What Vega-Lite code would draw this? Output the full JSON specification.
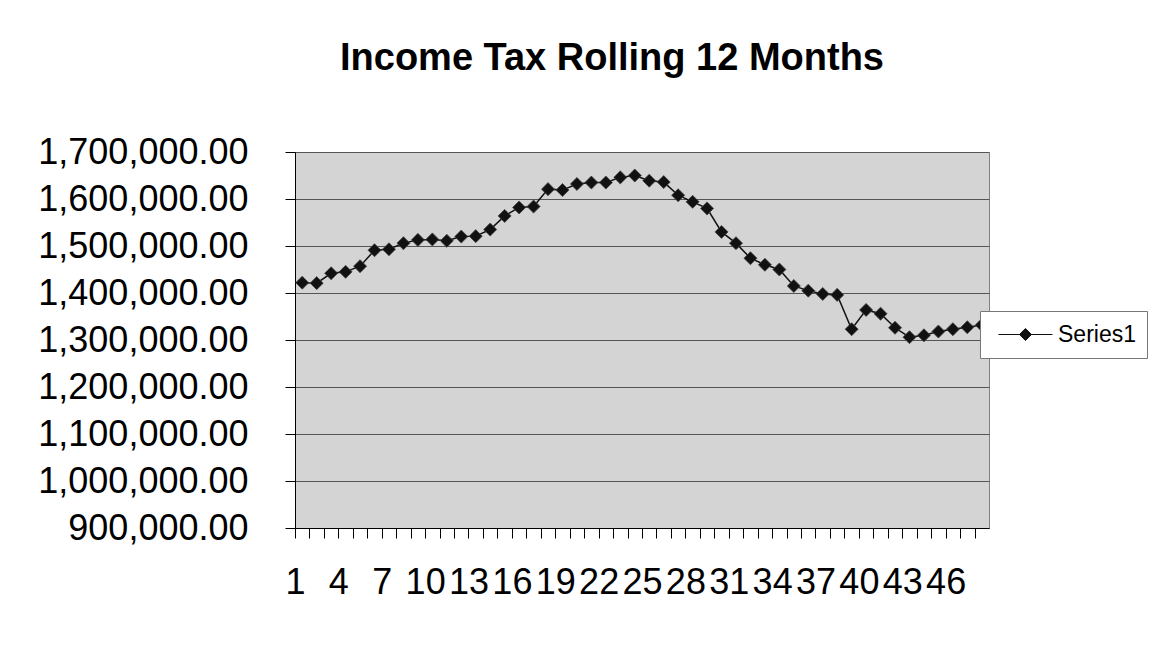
{
  "$schema": "https://vega.github.io/schema/vega-lite/v6.json",
  "autosize": "none",
  "padding": {"left": 295, "top": 152, "right": 160, "bottom": 129},
  "width": 694,
  "height": 376,
  "background": "white",
  "title": {
    "text": "Income Tax Rolling 12 Months",
    "font": "Liberation Sans",
    "fontSize": 38,
    "fontWeight": "bold",
    "color": "#000000",
    "frame": "group",
    "anchor": "middle",
    "offset": 56,
    "dx": -30
  },
  "config": {
    "view": {"fill": "#d4d4d4", "stroke": "#808080", "strokeWidth": 1},
    "axis": {
      "labelFont": "Liberation Sans",
      "labelFontSize": 36,
      "labelColor": "#000000",
      "labelLimit": 0,
      "domainColor": "#000000",
      "tickColor": "#000000",
      "tickSize": 10,
      "title": null
    }
  },
  "data": {
    "values": [
      {"month": 1, "tax": 1422000, "series": "Series1"},
      {"month": 2, "tax": 1421000, "series": "Series1"},
      {"month": 3, "tax": 1442000, "series": "Series1"},
      {"month": 4, "tax": 1445000, "series": "Series1"},
      {"month": 5, "tax": 1457000, "series": "Series1"},
      {"month": 6, "tax": 1491000, "series": "Series1"},
      {"month": 7, "tax": 1493000, "series": "Series1"},
      {"month": 8, "tax": 1506000, "series": "Series1"},
      {"month": 9, "tax": 1513000, "series": "Series1"},
      {"month": 10, "tax": 1514000, "series": "Series1"},
      {"month": 11, "tax": 1511000, "series": "Series1"},
      {"month": 12, "tax": 1520000, "series": "Series1"},
      {"month": 13, "tax": 1521000, "series": "Series1"},
      {"month": 14, "tax": 1535000, "series": "Series1"},
      {"month": 15, "tax": 1564000, "series": "Series1"},
      {"month": 16, "tax": 1582000, "series": "Series1"},
      {"month": 17, "tax": 1584000, "series": "Series1"},
      {"month": 18, "tax": 1621000, "series": "Series1"},
      {"month": 19, "tax": 1619000, "series": "Series1"},
      {"month": 20, "tax": 1632000, "series": "Series1"},
      {"month": 21, "tax": 1635000, "series": "Series1"},
      {"month": 22, "tax": 1635000, "series": "Series1"},
      {"month": 23, "tax": 1646000, "series": "Series1"},
      {"month": 24, "tax": 1650000, "series": "Series1"},
      {"month": 25, "tax": 1639000, "series": "Series1"},
      {"month": 26, "tax": 1636000, "series": "Series1"},
      {"month": 27, "tax": 1608000, "series": "Series1"},
      {"month": 28, "tax": 1594000, "series": "Series1"},
      {"month": 29, "tax": 1580000, "series": "Series1"},
      {"month": 30, "tax": 1530000, "series": "Series1"},
      {"month": 31, "tax": 1506000, "series": "Series1"},
      {"month": 32, "tax": 1474000, "series": "Series1"},
      {"month": 33, "tax": 1460000, "series": "Series1"},
      {"month": 34, "tax": 1450000, "series": "Series1"},
      {"month": 35, "tax": 1415000, "series": "Series1"},
      {"month": 36, "tax": 1405000, "series": "Series1"},
      {"month": 37, "tax": 1398000, "series": "Series1"},
      {"month": 38, "tax": 1396000, "series": "Series1"},
      {"month": 39, "tax": 1323000, "series": "Series1"},
      {"month": 40, "tax": 1364000, "series": "Series1"},
      {"month": 41, "tax": 1356000, "series": "Series1"},
      {"month": 42, "tax": 1326000, "series": "Series1"},
      {"month": 43, "tax": 1306000, "series": "Series1"},
      {"month": 44, "tax": 1310000, "series": "Series1"},
      {"month": 45, "tax": 1318000, "series": "Series1"},
      {"month": 46, "tax": 1323000, "series": "Series1"},
      {"month": 47, "tax": 1327000, "series": "Series1"},
      {"month": 48, "tax": 1332000, "series": "Series1"}
    ]
  },
  "mark": {
    "type": "line",
    "strokeWidth": 1.5,
    "point": {"filled": true, "shape": "diamond", "size": 170, "color": "#111111", "stroke": "#444444", "strokeWidth": 0.8}
  },
  "encoding": {
    "x": {
      "field": "month",
      "type": "ordinal",
      "scale": {"type": "point", "padding": 0.5},
      "axis": {
        "labelAngle": 0,
        "grid": false,
        "tickOffset": -7.23,
        "labelDx": 4.2,
        "labelPadding": 27,
        "labelOverlap": false,
        "labelFlush": false,
        "labelExpr": "(datum.value - 1) % 3 == 0 ? datum.label : ''"
      }
    },
    "y": {
      "field": "tax",
      "type": "quantitative",
      "scale": {"domain": [900000, 1700000], "nice": false, "zero": false},
      "axis": {
        "values": [900000, 1000000, 1100000, 1200000, 1300000, 1400000, 1500000, 1600000, 1700000],
        "format": ",.2f",
        "labelPadding": 37,
        "grid": true,
        "gridColor": "#555555",
        "gridWidth": 1
      }
    },
    "color": {
      "field": "series",
      "type": "nominal",
      "scale": {"range": ["#111111"]},
      "legend": {
        "title": null,
        "orient": "none",
        "legendX": 685,
        "legendY": 159,
        "fillColor": "#ffffff",
        "strokeColor": "#777777",
        "padding": 11,
        "labelFont": "Liberation Sans",
        "labelFontSize": 23,
        "labelColor": "#000000",
        "labelOffset": 42,
        "symbolSize": 576,
        "encode": {
          "symbols": {
            "update": {
              "shape": {"value": "M-0.42,0L4.08,0M1.33,0L1.83,-0.5L2.33,0L1.83,0.5Z"},
              "fill": {"value": "#333333"},
              "stroke": {"value": "#333333"},
              "strokeWidth": {"value": 1}
            }
          }
        }
      }
    }
  }
}
